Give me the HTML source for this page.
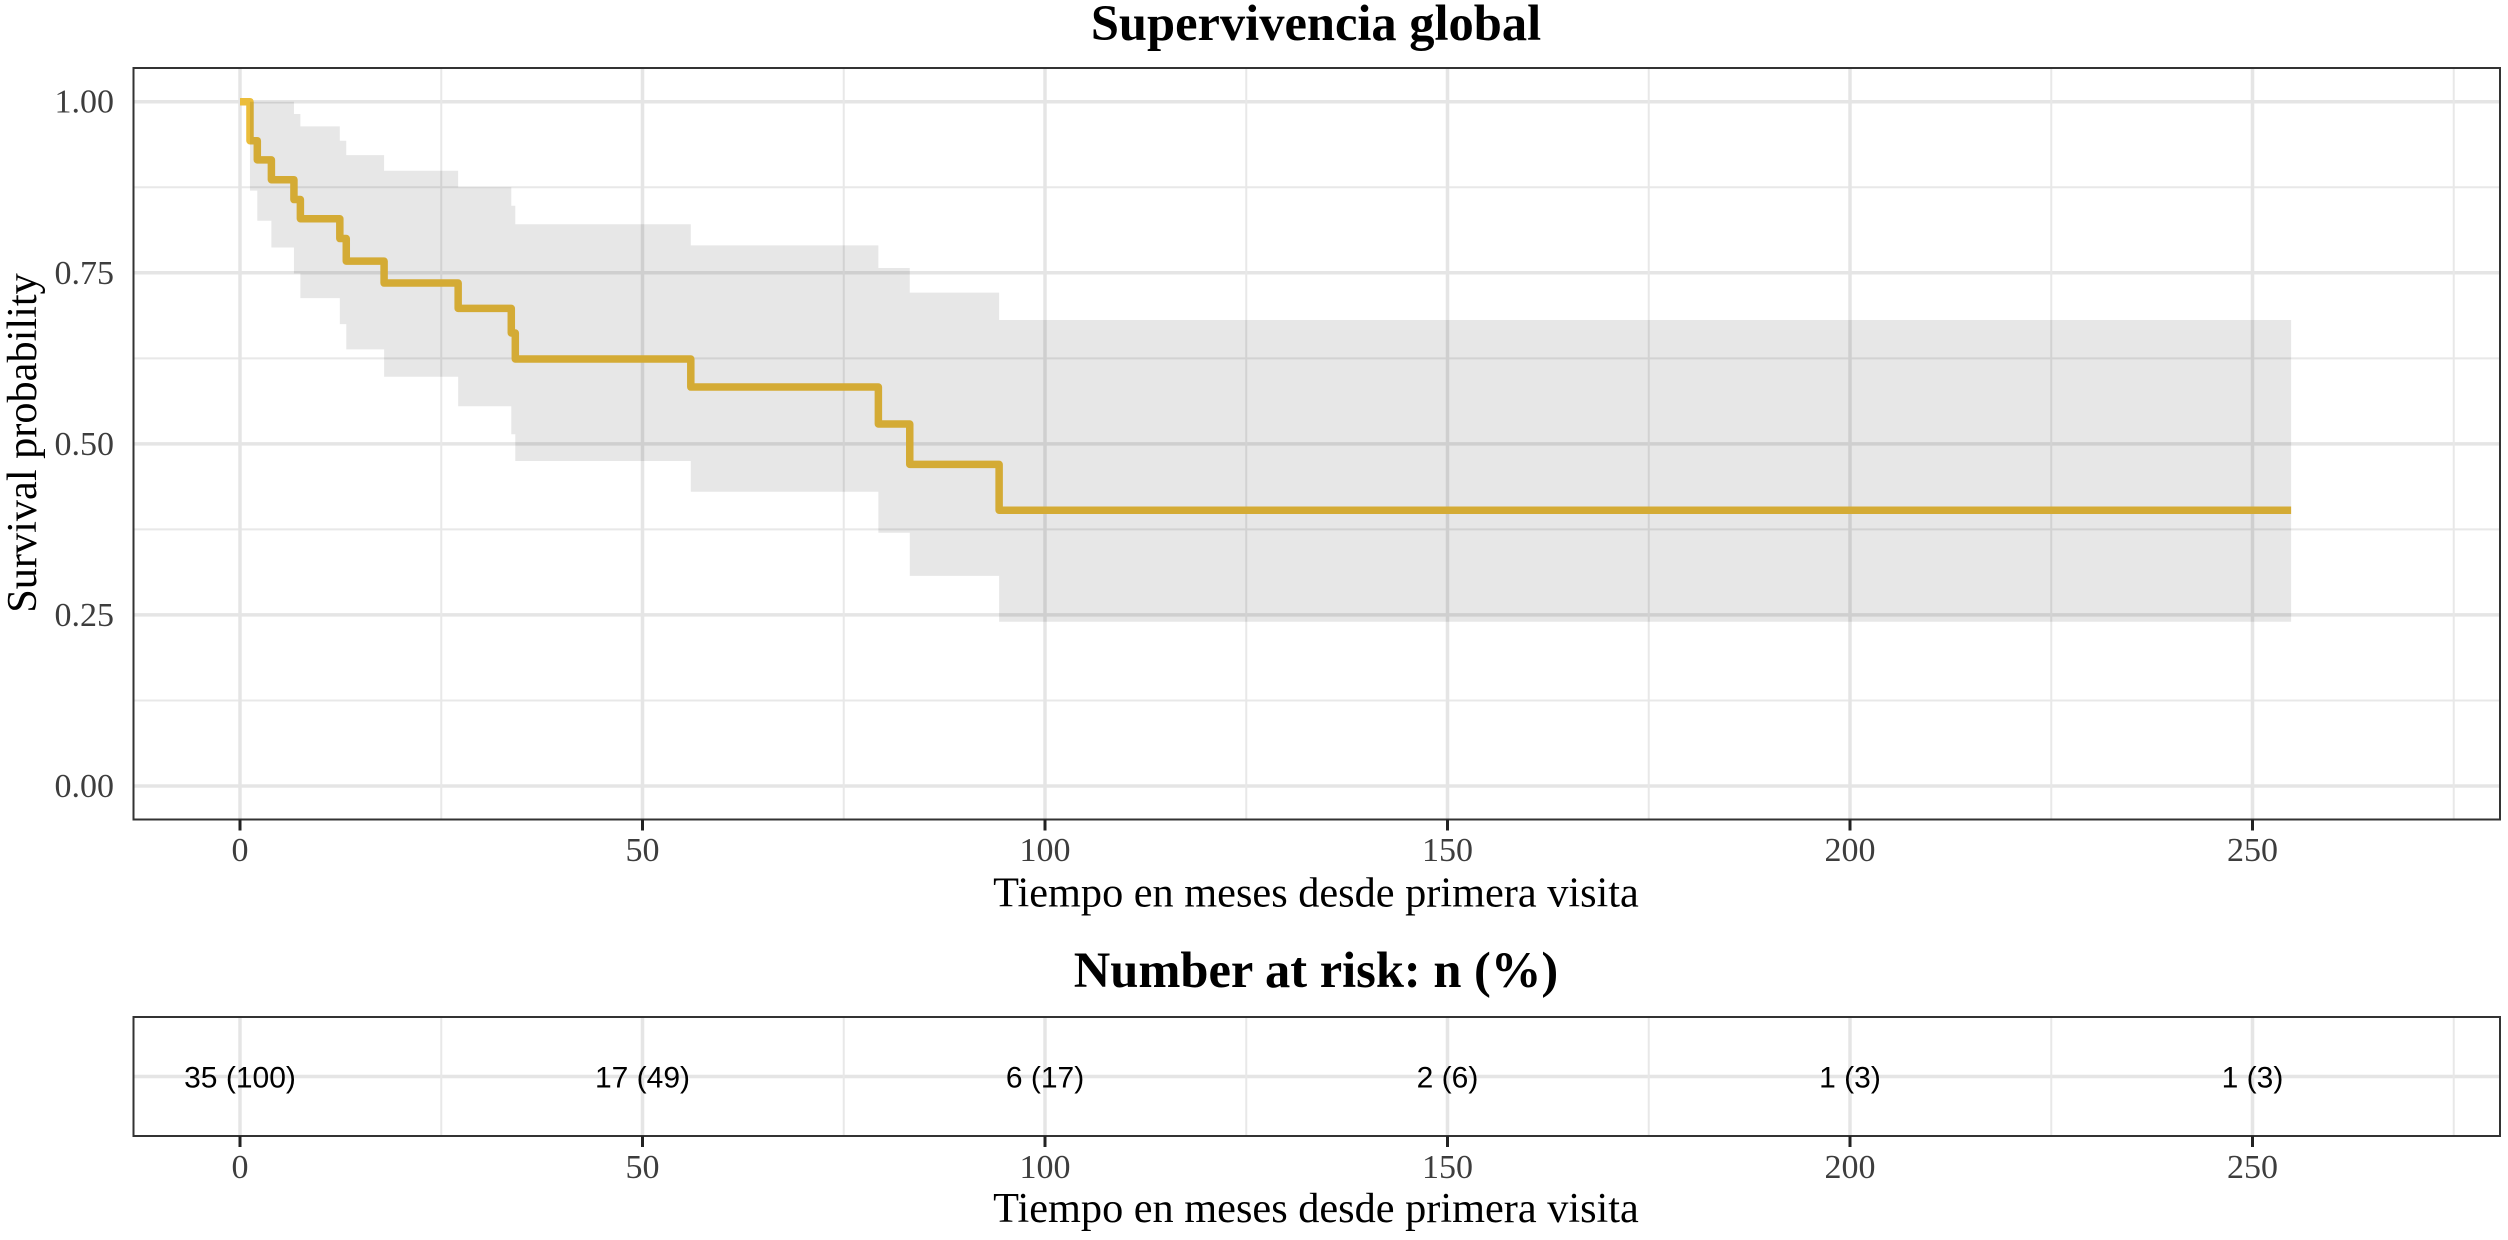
<!DOCTYPE html>
<html lang="es">
<head>
<meta charset="utf-8">
<title>Supervivencia global</title>
<style>
html,body{margin:0;padding:0;background:#fff;}
svg{display:block;}
text{font-family:"Liberation Serif",serif;}
.tick{font-size:34px;fill:#3d3d3d;}
.axis-title{font-size:42.3px;fill:#000;}
.plot-title{font-size:50.5px;font-weight:bold;fill:#000;}
.risk{font-family:"Liberation Sans",sans-serif;font-size:30px;fill:#000;}
</style>
</head>
<body>
<svg id="chart" xmlns="http://www.w3.org/2000/svg" width="2508" height="1240" viewBox="0 0 2508 1240">
  <text class="plot-title" x="1316" y="40" text-anchor="middle">Supervivencia global</text>
  <g id="main-layer"></g>
  <text class="axis-title" x="1316" y="906.5" text-anchor="middle">Tiempo en meses desde primera visita</text>
  <text class="axis-title" transform="translate(36,443) rotate(-90)" text-anchor="middle">Survival probability</text>
  <text class="plot-title" x="1316" y="987" text-anchor="middle">Number at risk: n (%)</text>
  <g id="risk-layer"></g>
  <text class="axis-title" x="1316" y="1222" text-anchor="middle">Tiempo en meses desde primera visita</text>
</svg>
<script>
const eventTimes = [0, 1.24, 2.15, 3.9, 6.7, 7.5, 12.4, 13.2, 17.9, 27.1, 33.7, 34.2, 56, 79.3, 83.2, 94.3];
const survival = [1, 0.943, 0.915, 0.886, 0.857, 0.829, 0.8, 0.767, 0.735, 0.698, 0.662, 0.624, 0.583, 0.529, 0.47, 0.403];
const upperCI = [1, 1, 1, 1, 0.982, 0.964, 0.943, 0.922, 0.899, 0.875, 0.848, 0.821, 0.79, 0.757, 0.721, 0.681];
const lowerCI = [1, 0.87, 0.826, 0.787, 0.749, 0.713, 0.675, 0.638, 0.598, 0.555, 0.514, 0.475, 0.43, 0.37, 0.307, 0.24];
const endTime = 254.8;
const xTicks = [0, 50, 100, 150, 200, 250];
const xMinorTicks = [25, 75, 125, 175, 225, 275];
const yTicks = [0, 0.25, 0.5, 0.75, 1];
const yTickLabels = ["0.00", "0.25", "0.50", "0.75", "1.00"];
const yMinorTicks = [0.125, 0.375, 0.625, 0.875];
const riskLabels = ["35 (100)", "17 (49)", "6 (17)", "2 (6)", "1 (3)", "1 (3)"];

const NS = "http://www.w3.org/2000/svg";
const PANEL = {left: 133.5, right: 2500, top: 68, bottom: 819.5};
const RISK = {top: 1017, bottom: 1136};
const xScale = function (v) { return 240 + v * 8.05; };
const yScale = function (v) { return 786 - v * 684.3; };
const riskMidY = 1076.5;

function mk(parent, tag, attrs, txt) {
  const el = document.createElementNS(NS, tag);
  for (const k in attrs) el.setAttribute(k, attrs[k]);
  if (txt !== undefined) el.textContent = txt;
  parent.appendChild(el);
  return el;
}

function drawVerticalGrid(layer, top, bottom) {
  xMinorTicks.forEach(function (t) {
    const el = mk(layer, "line", {x1: xScale(t), x2: xScale(t), y1: top, y2: bottom, stroke: "#e8e8e8", "stroke-width": 2});
    
    
  });
  xTicks.forEach(function (t) {
    const el = mk(layer, "line", {x1: xScale(t), x2: xScale(t), y1: top, y2: bottom, stroke: "#e5e5e5", "stroke-width": 3.5});
    
    
  });
}

function drawXAxis(layer, bottom, labelY) {
  xTicks.forEach(function (t) {
    const mark = mk(layer, "line", {x1: xScale(t), x2: xScale(t), y1: bottom, y2: bottom + 11, stroke: "#222", "stroke-width": 3});
    
    
    const lab = mk(layer, "text", {x: xScale(t), y: labelY, "text-anchor": "middle", "class": "tick"}, String(t));
    
    
  });
}

function drawBorder(layer, top, bottom) {
  const el = mk(layer, "rect", {x: PANEL.left, y: top, width: PANEL.right - PANEL.left, height: bottom - top, fill: "none", stroke: "#333", "stroke-width": 2});
  
  
}

function stepPoints(values) {
  const pts = [];
  values.forEach(function (v, i) {
    const next = i + 1 < eventTimes.length ? eventTimes[i + 1] : endTime;
    pts.push([xScale(eventTimes[i]), yScale(v)]);
    pts.push([xScale(next), yScale(v)]);
  });
  return pts;
}

function drawMain() {
  const g = document.getElementById("main-layer");
  yMinorTicks.forEach(function (t) {
    const el = mk(g, "line", {x1: PANEL.left, x2: PANEL.right, y1: yScale(t), y2: yScale(t), stroke: "#e8e8e8", "stroke-width": 2});
    
    
  });
  yTicks.forEach(function (t, i) {
    const el = mk(g, "line", {x1: PANEL.left, x2: PANEL.right, y1: yScale(t), y2: yScale(t), stroke: "#e5e5e5", "stroke-width": 3.5});
    
    
    const lab = mk(g, "text", {x: 114, y: yScale(t) + 11, "text-anchor": "end", "class": "tick"}, yTickLabels[i]);
    
    
  });
  drawVerticalGrid(g, PANEL.top, PANEL.bottom);

  const linePts = stepPoints(survival);
  const line = mk(g, "path", {
    d: "M" + linePts.map(function (p) { return p[0].toFixed(2) + " " + p[1].toFixed(2); }).join("L"),
    fill: "none", stroke: "#ebbd3b", "stroke-width": 7.5, "stroke-linejoin": "round"
  });
  
  

  const up = stepPoints(upperCI);
  const lo = stepPoints(lowerCI).reverse();
  const band = mk(g, "path", {
    d: "M" + up.concat(lo).map(function (p) { return p[0].toFixed(2) + " " + p[1].toFixed(2); }).join("L") + "Z",
    fill: "#000", "fill-opacity": 0.095
  });
  
  

  drawBorder(g, PANEL.top, PANEL.bottom);
  drawXAxis(g, PANEL.bottom, 861);
}

function drawRisk() {
  const g = document.getElementById("risk-layer");
  const h = mk(g, "line", {x1: PANEL.left, x2: PANEL.right, y1: riskMidY, y2: riskMidY, stroke: "#e5e5e5", "stroke-width": 3.5});
  
  
  drawVerticalGrid(g, RISK.top, RISK.bottom);
  xTicks.forEach(function (t, i) {
    const el = mk(g, "text", {x: xScale(t), y: riskMidY + 11, "text-anchor": "middle", "class": "risk"}, riskLabels[i]);
    
    
  });
  drawBorder(g, RISK.top, RISK.bottom);
  drawXAxis(g, RISK.bottom, 1178);
}

drawMain();
drawRisk();
</script>
</body>
</html>
